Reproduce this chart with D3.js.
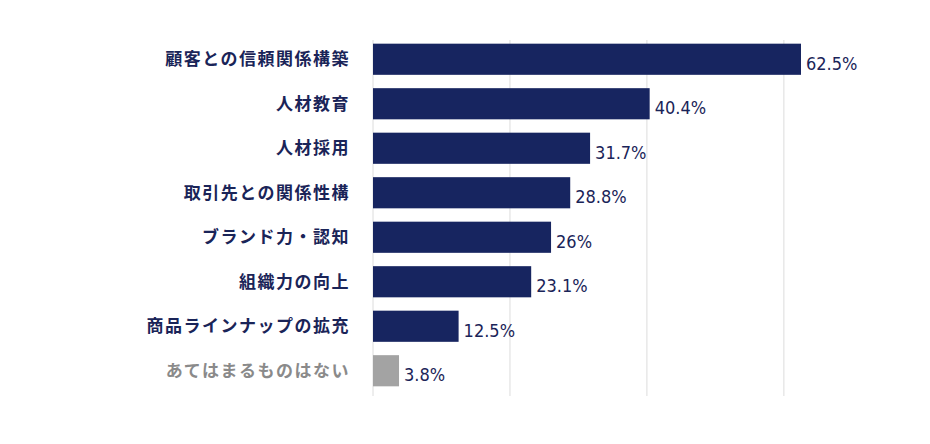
<!DOCTYPE html>
<html lang="ja">
<head>
<meta charset="utf-8">
<script src="https://cdn.jsdelivr.net/npm/d3@7"></script>
<style>
body{margin:0;background:#fff;}
</style>
</head>
<body>
<div id="chart"></div>
<script>
var categories = ["顧客との信頼関係構築","人材教育","人材採用","取引先との関係性構","ブランド力・認知","組織力の向上","商品ラインナップの拡充","あてはまるものはない"];
var values = [62.5, 40.4, 31.7, 28.8, 26, 23.1, 12.5, 3.8];
var valueLabels = ["62.5%","40.4%","31.7%","28.8%","26%","23.1%","12.5%","3.8%"];
var gridTicks = [0, 20, 40, 60];

var width = 930, height = 444;
var svg = d3.select("#chart").append("svg").attr("width", width).attr("height", height);

var x = d3.scaleLinear().domain([0, 62.5]).range([373, 801]);
var y = d3.scaleBand().domain(categories).range([37, 393]).paddingInner(0.3).paddingOuter(0.15);

// grid
svg.selectAll(".grid").data(gridTicks).join("line")
  .attr("x1", d => x(d)).attr("x2", d => x(d))
  .attr("y1", 40).attr("y2", 396)
  .attr("stroke", "#dcdcdc").attr("stroke-width", 1);

var last = categories[categories.length - 1];

svg.selectAll(".bar").data(categories).join("rect")
  .attr("x", x(0))
  .attr("y", d => y(d))
  .attr("width", (d, i) => x(values[i]) - x(0))
  .attr("height", y.bandwidth())
  .attr("fill", d => d === last ? "#a3a3a3" : "#172560");

svg.selectAll(".cat").data(categories).join("text")
  .attr("x", 350)
  .attr("y", d => y(d) + y.bandwidth() / 2)
  .attr("dy", "0.36em")
  .attr("text-anchor", "end")
  .attr("font-family", "'Noto Sans CJK JP', sans-serif")
  .attr("font-weight", "bold")
  .attr("font-size", 17)
  .attr("letter-spacing", "1.5px")
  .attr("fill", d => d === last ? "#8a8a8a" : "#1a2458")
  .text(d => d);

svg.selectAll(".val").data(categories).join("text")
  .attr("x", (d, i) => x(values[i]) + 5)
  .attr("y", d => y(d) + y.bandwidth() / 2 + 4)
  .attr("dy", "0.36em")
  .attr("font-family", "'DejaVu Sans Condensed', 'Roboto', sans-serif")
  .attr("font-size", 18)
  .attr("fill", "#1a2458")
  .text((d, i) => valueLabels[i]);
</script>
</body>
</html>
